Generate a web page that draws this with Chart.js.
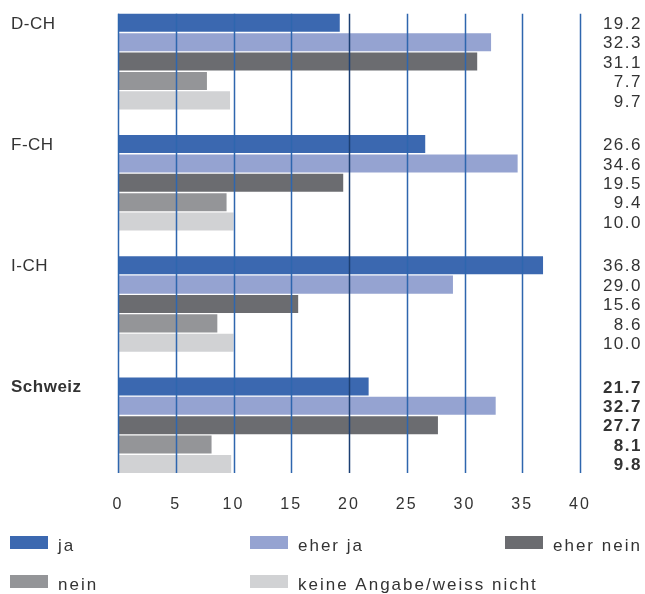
<!DOCTYPE html>
<html>
<head>
<meta charset="utf-8">
<script src="https://cdn.jsdelivr.net/npm/chart.js@4/dist/chart.umd.min.js"></script>
<style>
  html, body { margin: 0; padding: 0; background: #fff; }
  #wrap { width: 645px; height: 594px; position: relative; }
</style>
</head>
<body>
<div id="wrap"><canvas id="grafico" width="645" height="594"></canvas></div>
<script>
// Regionen und Antwortkategorien
const regionen = ['D-CH', 'F-CH', 'I-CH', 'Schweiz'];
const antworten = ['ja', 'eher ja', 'eher nein', 'nein', 'keine Angabe/weiss nicht'];

// Anteile in Prozent je Antwort (Reihenfolge wie regionen)
const ja = [19.2, 26.6, 36.8, 21.7];
const eherJa = [32.3, 34.6, 29.0, 32.7];
const eherNein = [31.1, 19.5, 15.6, 27.7];
const nein = [7.7, 9.4, 8.6, 8.1];
const keineAngabe = [9.7, 10.0, 10.0, 9.8];

const skala = [0, 5, 10, 15, 20, 25, 30, 35, 40];

const farben = ['#3b68b0', '#95a3d1', '#6b6c70', '#949598', '#d1d2d4'];
const serien = [ja, eherJa, eherNein, nein, keineAngabe];

const schrift = '"Liberation Sans", "DejaVu Sans", sans-serif';
const textFarbe = '#333';

// Gitterlinien nur über die Höhe der Balken, über die Balken gezeichnet
const gitter = {
    id: 'gitter',
    beforeDraw(chart) {
        chart.ctx.letterSpacing = '2px';
    },
    afterDatasetsDraw(chart) {
        const ctx = chart.ctx;
        const xs = chart.scales.x;
        const erste = chart.getDatasetMeta(0).data[0];
        const letzte = chart.getDatasetMeta(serien.length - 1).data[regionen.length - 1];
        const oben = erste.y - erste.height / 2;
        const unten = letzte.y + letzte.height / 2;
        ctx.save();
        skala.forEach(v => {
            const x = Math.round(xs.getPixelForValue(v)) + 0.5;
            ctx.strokeStyle = v === 20 ? '#1b3f73' : '#2e66ae';
            ctx.lineWidth = 1.5;
            ctx.beginPath();
            ctx.moveTo(x, oben);
            ctx.lineTo(x, unten);
            ctx.stroke();
        });
        ctx.restore();
    }
};

// Regionsnamen links, Werte rechts, Legende unten
const beschriftung = {
    id: 'beschriftung',
    afterDraw(chart) {
        const ctx = chart.ctx;
        ctx.save();
        ctx.fillStyle = textFarbe;
        ctx.textBaseline = 'middle';

        const meta0 = chart.getDatasetMeta(0);
        ctx.letterSpacing = '0.5px';
        regionen.forEach((r, i) => {
            const fett = r === 'Schweiz';
            ctx.font = (fett ? 'bold ' : '') + '17px ' + schrift;
            ctx.textAlign = 'left';
            ctx.fillText(r, 11, meta0.data[i].y + 1);
        });

        ctx.letterSpacing = '1.5px';
        serien.forEach((werte, d) => {
            const meta = chart.getDatasetMeta(d);
            werte.forEach((w, i) => {
                const fett = regionen[i] === 'Schweiz';
                ctx.font = (fett ? 'bold ' : '') + '17px ' + schrift;
                ctx.textAlign = 'right';
                ctx.fillText(w.toFixed(1), 642, meta.data[i].y + 1.5);
            });
        });

        // Legende in drei Spalten
        const spalten = [10, 250, 505];
        const zeilen = [543, 582];
        ctx.letterSpacing = '2px';
        ctx.font = '17px ' + schrift;
        ctx.textAlign = 'left';
        antworten.forEach((a, k) => {
            const x = spalten[k % 3];
            const y = zeilen[Math.floor(k / 3)];
            ctx.fillStyle = farben[k];
            ctx.fillRect(x, y - 7, 38, 13);
            ctx.fillStyle = textFarbe;
            ctx.fillText(a, x + 48, y + 3);
        });
        ctx.restore();
    }
};

new Chart(document.getElementById('grafico'), {
    type: 'bar',
    data: {
        labels: regionen,
        datasets: serien.map((werte, d) => ({
            label: antworten[d],
            data: werte,
            backgroundColor: farben[d],
            borderWidth: 0,
            categoryPercentage: 0.8,
            barPercentage: 0.93
        }))
    },
    options: {
        indexAxis: 'y',
        responsive: false,
        animation: false,
        layout: { padding: { top: 1, left: 118, right: 65, bottom: 71 } },
        plugins: {
            legend: { display: false },
            tooltip: { enabled: false }
        },
        scales: {
            x: {
                min: 0,
                max: 40,
                afterBuildTicks(scale) {
                    scale.ticks = skala.map(v => ({ value: v }));
                },
                grid: { display: false, drawTicks: false },
                border: { display: false },
                ticks: {
                    padding: 9,
                    color: textFarbe,
                    font: { family: schrift, size: 16 },
                    maxRotation: 0
                }
            },
            y: {
                display: false
            }
        }
    },
    plugins: [gitter, beschriftung]
});
</script>
</body>
</html>
